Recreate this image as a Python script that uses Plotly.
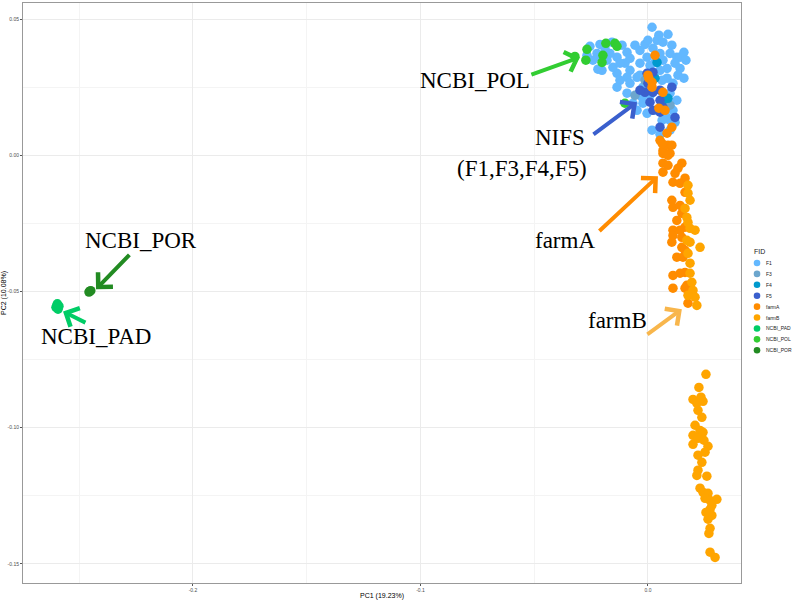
import plotly.graph_objects as go

# ---------------- data (PC1, PC2) ----------------
F1_x = [0.0018, 0.0048, 0.0088, 0.0040, -0.0255, -0.0224, -0.0202, -0.0167, -0.0136, -0.0092,
        -0.0101, -0.0079, -0.0035, -0.0004, 0.0022, 0.0053, 0.0097, 0.0127, 0.0141, 0.0119,
        0.0084, 0.0053, -0.0035, -0.0048, -0.0092, -0.0136, -0.0123, -0.0079, -0.0022, 0.0084,
        0.0110, 0.0097, 0.0127, 0.0110, 0.0084, 0.0097, 0.0040, -0.0004, -0.0022, -0.0066,
        -0.0026, -0.0092, -0.0136, 0.0097, 0.0018, -0.0154, -0.0180, -0.0211, -0.0242, -0.0220,
        0.0066, 0.0105, 0.0158, 0.0167, 0.0141, -0.0013, -0.0057, -0.0114, -0.0079, -0.0123,
        0.0009, 0.0031, 0.0066, 0.0000, -0.0035, 0.0062, 0.0132, 0.0158, 0.0009, -0.0048,
        0.0062, 0.0119, 0.0053, -0.0189, -0.0268, -0.0158, -0.0211]
F1_y = [0.0470, 0.0441, 0.0444, 0.0422, 0.0400, 0.0374, 0.0312, 0.0374, 0.0360, 0.0378,
        0.0338, 0.0312, 0.0385, 0.0360, 0.0393, 0.0374, 0.0374, 0.0360, 0.0360, 0.0338,
        0.0319, 0.0312, 0.0338, 0.0286, 0.0286, 0.0301, 0.0275, 0.0264, 0.0250, 0.0283,
        0.0264, 0.0228, 0.0202, 0.0165, 0.0139, 0.0128, 0.0165, 0.0154, 0.0191, 0.0191,
        0.0213, 0.0228, 0.0250, 0.0092, 0.0092, 0.0323, 0.0349, 0.0360, 0.0349, 0.0316,
        0.0415, 0.0404, 0.0378, 0.0349, 0.0319, 0.0407, 0.0404, 0.0404, 0.0356, 0.0338,
        0.0330, 0.0341, 0.0349, 0.0422, 0.0294, 0.0275, 0.0294, 0.0283, 0.0220, 0.0165,
        0.0128, 0.0121, 0.0077, 0.0393, 0.0367, 0.0415, 0.0407]

F3_x = [-0.0013, 0.0097, -0.0057]
F3_y = [0.0275, 0.0184, 0.0220]

F4_x = [0.0031, 0.0040, 0.0066, 0.0088]
F4_y = [0.0283, 0.0341, 0.0202, 0.0209]

F5_x = [-0.0004, 0.0022, -0.0013, 0.0022, 0.0053, 0.0105, 0.0009, 0.0053, 0.0066, 0.0022,
        0.0053, 0.0119, 0.0053, -0.0035, 0.0000]
F5_y = [0.0301, 0.0305, 0.0231, 0.0231, 0.0239, 0.0250, 0.0195, 0.0202, 0.0176, 0.0165,
        0.0158, 0.0139, 0.0103, 0.0239, 0.0264]

farmA_x = [0.0031, 0.0000, 0.0018, 0.0004, 0.0018, 0.0066, 0.0048, 0.0075, 0.0105, 0.0084,
           0.0053, 0.0088, 0.0066, 0.0097, 0.0062, 0.0105, 0.0066, 0.0088, 0.0066, 0.0088,
           0.0149, 0.0132, 0.0066, 0.0119, 0.0110, 0.0163, 0.0141, 0.0163, 0.0105, 0.0110,
           0.0141, 0.0149, 0.0127, 0.0163, 0.0141, 0.0110, 0.0110, 0.0149, 0.0105, 0.0149,
           0.0163, 0.0127, 0.0154, 0.0163, 0.0141, 0.0110, 0.0171, 0.0110, 0.0163, 0.0176]
farmA_y = [0.0367, 0.0294, 0.0268, 0.0283, 0.0250, 0.0231, 0.0173, 0.0165, 0.0103, 0.0081,
           0.0055, 0.0037, 0.0018, 0.0007, 0.0044, 0.0037, 0.0007, 0.0000, -0.0029, -0.0037,
           -0.0029, -0.0048, -0.0062, -0.0066, -0.0099, -0.0084, -0.0103, -0.0136, -0.0165, -0.0191,
           -0.0184, -0.0213, -0.0239, -0.0264, -0.0275, -0.0275, -0.0294, -0.0301, -0.0319, -0.0338,
           -0.0349, -0.0374, -0.0374, -0.0430, -0.0433, -0.0441, -0.0477, -0.0488, -0.0488, -0.0543]

farmB_x = [0.0176, 0.0176, 0.0185, 0.0163, 0.0171, 0.0176, 0.0185, 0.0207, 0.0171, 0.0185,
           0.0229, 0.0176, 0.0185, 0.0185, 0.0193, 0.0198, 0.0207, 0.0215, 0.0176,
           0.0255, 0.0224, 0.0198, 0.0215, 0.0242, 0.0220, 0.0237, 0.0198, 0.0229, 0.0242,
           0.0220, 0.0198, 0.0264, 0.0220, 0.0251, 0.0220, 0.0215, 0.0259, 0.0229, 0.0242,
           0.0264, 0.0251, 0.0273, 0.0303, 0.0273, 0.0281, 0.0264, 0.0273, 0.0268, 0.0273,
           0.0295, 0.0233, 0.0207, 0.0246, 0.0281, 0.0255, 0.0237]
farmB_y = [-0.0110, -0.0139, -0.0165, -0.0195, -0.0228, -0.0246, -0.0268, -0.0275, -0.0312, -0.0319,
           -0.0338, -0.0360, -0.0396, -0.0433, -0.0466, -0.0496, -0.0521, -0.0551, -0.0514,
           -0.0804, -0.0852, -0.0896, -0.0910, -0.0903, -0.0936, -0.0962, -0.1028, -0.1010, -0.1017,
           -0.1039, -0.1061, -0.1068, -0.1101, -0.1090, -0.1156, -0.1175, -0.1178, -0.1222, -0.1237,
           -0.1241, -0.1259, -0.1267, -0.1263, -0.1300, -0.1322, -0.1336, -0.1369, -0.1388, -0.1457,
           -0.1476, -0.0888, -0.0991, -0.1046, -0.1285, -0.1311, -0.1127]

PAD_x = [-0.2598, -0.2593, -0.2589, -0.2602, -0.2596]
PAD_y = [-0.0551, -0.0565, -0.0554, -0.0558, -0.0545]

POL_x = [-0.0321, -0.0268, -0.0273, -0.0185, -0.0145, -0.0136, -0.0198, -0.0202, -0.0101]
POL_y = [0.0363, 0.0389, 0.0349, 0.0411, 0.0411, 0.0400, 0.0367, 0.0341, 0.0191]

POR_x = [-0.2453, -0.2449, -0.2457]
POR_y = [-0.0499, -0.0497, -0.0502]

groups = ["F1", "F3", "F4", "F5", "farmA", "farmB", "NCBI_PAD", "NCBI_POL", "NCBI_POR"]
xs = [F1_x, F3_x, F4_x, F5_x, farmA_x, farmB_x, PAD_x, POL_x, POR_x]
ys = [F1_y, F3_y, F4_y, F5_y, farmA_y, farmB_y, PAD_y, POL_y, POR_y]
colors = ["#63B8FF", "#6CA6CD", "#009ACD", "#3A5FCD", "#FF8C00", "#FFA500",
          "#00CD66", "#32CD32", "#228B22"]

x_tickvals = [-0.2, -0.1, 0.0]
x_ticktext = ["-0.2", "-0.1", "0.0"]
y_tickvals = [0.05, 0.0, -0.05, -0.10, -0.15]
y_ticktext = ["0.05", "0.00", "-0.05", "-0.10", "-0.15"]

fig = go.Figure()
for g, x, y, c in zip(groups, xs, ys, colors):
    fig.add_trace(go.Scatter(x=x, y=y, mode="markers", name=g, showlegend=False,
                             marker=dict(color=c, size=9.5, line=dict(width=0))))

# ---------------- text labels and arrows ----------------
serif = dict(family="Liberation Serif, Times New Roman, serif", size=23, color="black")
labels = [
    ("NCBI_POL", -0.0760, 0.0275),
    ("NIFS", -0.0387, 0.0066),
    ("(F1,F3,F4,F5)", -0.0554, -0.0048),
    ("farmA", -0.0365, -0.0312),
    ("farmB", -0.0136, -0.0606),
    ("NCBI_POR", -0.2229, -0.0312),
    ("NCBI_PAD", -0.2426, -0.0664),
]
for t, x, y in labels:
    fig.add_annotation(x=x, y=y, text=t, showarrow=False, font=serif,
                       xanchor="center", yanchor="middle")

arrows = [
    (-0.0299, 0.0360, -0.0519, 0.0294, "#32CD32"),
    (-0.0048, 0.0195, -0.0246, 0.0073, "#3A5FCD"),
    (0.0044, -0.0077, -0.0220, -0.0283, "#FF8C00"),
    (0.0149, -0.0565, -0.0009, -0.0661, "#F8B64C"),
    (-0.2426, -0.0492, -0.2273, -0.0360, "#228B22"),
    (-0.2571, -0.0573, -0.2466, -0.0617, "#00CD66"),
]
for hx, hy, tx, ty, c in arrows:
    fig.add_annotation(x=hx, y=hy, ax=tx, ay=ty, xref="x", yref="y", axref="x", ayref="y",
                       text="", showarrow=True, arrowhead=4, arrowsize=1.0,
                       arrowwidth=4, arrowcolor=c, standoff=0, startstandoff=0)

# ---------------- legend (drawn manually for ggplot-like compact spacing) ----------------
leg_title_x, leg_title_y = 1.0153, 0.5707
leg_sym_x, leg_text_x = 1.0223, 1.0320
leg_top, leg_step = 0.5517, 0.0188
fig.add_annotation(xref="paper", yref="paper", x=leg_title_x, y=leg_title_y, text="FID",
                   showarrow=False, xanchor="left", yanchor="middle",
                   font=dict(family="Liberation Sans, Arial, sans-serif", size=7, color="#1a1a1a"))
for i, (g, c) in enumerate(zip(groups, colors)):
    yy = leg_top - i * leg_step
    fig.add_shape(type="circle", xref="paper", yref="paper",
                  xsizemode="pixel", ysizemode="pixel", xanchor=leg_sym_x, yanchor=yy,
                  x0=-3.3, x1=3.3, y0=-3.3, y1=3.3,
                  fillcolor=c, line=dict(width=0))
    fig.add_annotation(xref="paper", yref="paper", x=leg_text_x, y=yy, text=g,
                       showarrow=False, xanchor="left", yanchor="middle",
                       font=dict(family="Liberation Sans, Arial, sans-serif", size=5, color="#1a1a1a"))

grid_major = "#EBEBEB"
grid_minor = "#F4F4F4"
fig.update_layout(
    width=797, height=600,
    margin=dict(l=23, r=56, t=3, b=17, autoexpand=False),
    paper_bgcolor="white", plot_bgcolor="white",
    font=dict(family="Liberation Sans, Arial, sans-serif", size=6, color="#4D4D4D"),
    showlegend=False,
    xaxis=dict(range=[-0.2747, 0.0409], tickvals=x_tickvals, ticktext=x_ticktext,
               showgrid=True, gridcolor=grid_major, gridwidth=1,
               minor=dict(dtick=0.05, tick0=0.05, showgrid=True, gridcolor=grid_minor, gridwidth=1),
               zeroline=False, showline=True, linecolor="#999999", linewidth=1, mirror=True,
               ticks="outside", ticklen=2, tickcolor="#555555",
               tickfont=dict(size=5, color="#4D4D4D"),
               title=dict(text="PC1 (19.23%)", font=dict(size=7, color="black"), standoff=2)),
    yaxis=dict(range=[-0.157, 0.0559], tickvals=y_tickvals, ticktext=y_ticktext,
               showgrid=True, gridcolor=grid_major, gridwidth=1,
               minor=dict(dtick=0.025, tick0=0.025, showgrid=True, gridcolor=grid_minor, gridwidth=1),
               zeroline=False, showline=True, linecolor="#999999", linewidth=1, mirror=True,
               ticks="outside", ticklen=2, tickcolor="#555555",
               tickfont=dict(size=5, color="#4D4D4D"),
               title=dict(text="PC2 (10.08%)", font=dict(size=7, color="black"), standoff=2)),
)

fig.write_html("out.html")
